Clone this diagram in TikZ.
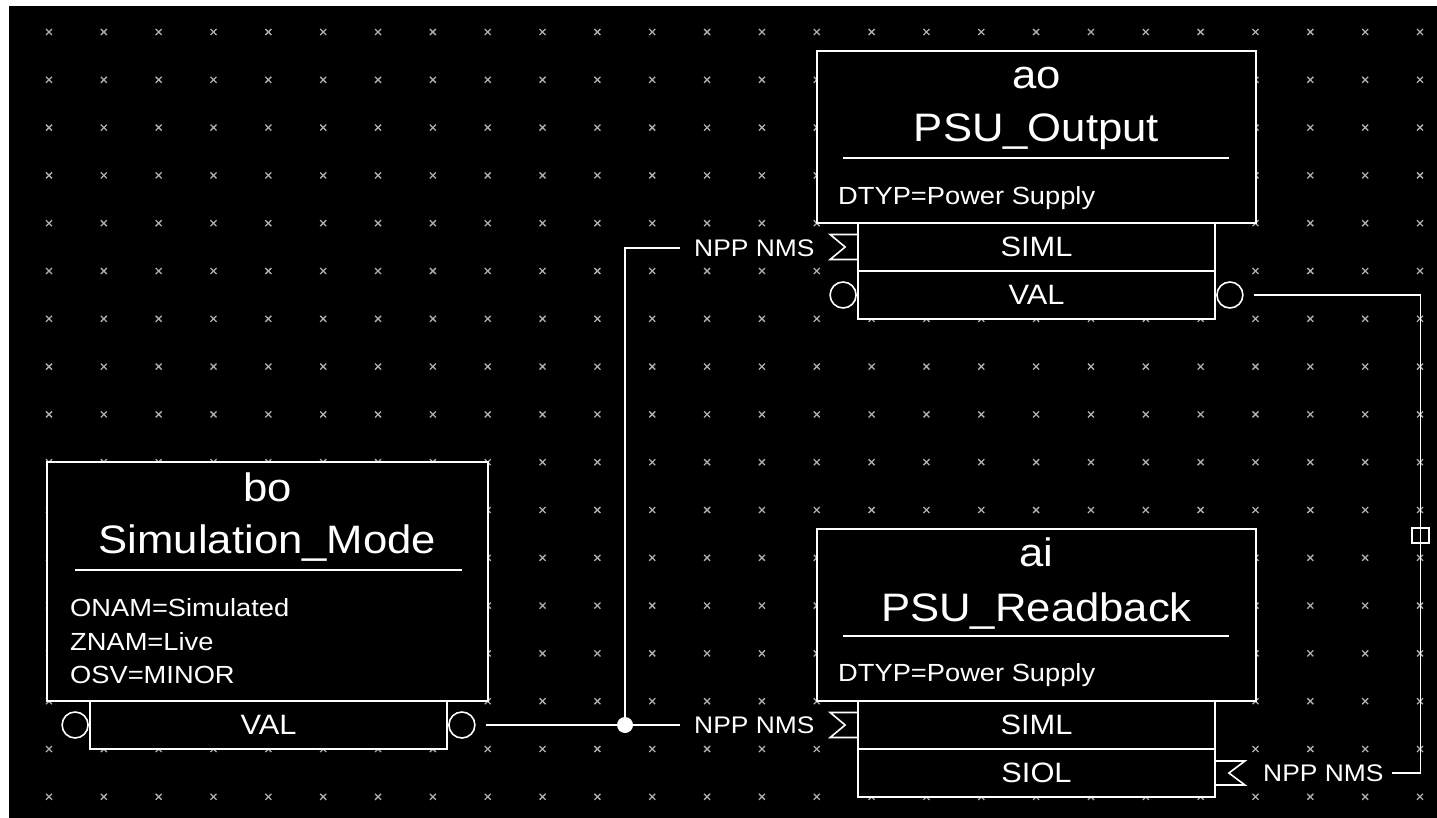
\documentclass[tikz,border=0pt]{standalone}
\usepackage{fontspec}
\newfontfamily\lab{Liberation Sans}[FakeStretch=1.1]
\definecolor{gridc}{RGB}{175,175,175}
\begin{document}
\begin{tikzpicture}[x=1pt,y=-1pt,
  wire/.style={draw=white, line width=1.8pt},
  recbox/.style={draw=white, fill=black, line width=1.8pt, inner sep=0pt, rectangle},
  portbox/.style={recbox, minimum width=357pt, minimum height=48pt, text=white, font=\lab\fontsize{28}{30}\selectfont},
  titletext/.style={text=white, font=\lab\fontsize{39.7}{42}\selectfont, inner sep=0pt, anchor=base},
  fieldtext/.style={text=white, font=\lab\fontsize{24.8}{26}\selectfont, inner sep=0pt, anchor=base west},
  linklbl/.style={text=white, font=\lab\fontsize{24}{26}\selectfont, inner sep=0pt, anchor=base west},
  gridmark/.style={draw=gridc, line width=1.3pt},
  outport/.style={circle, draw=white, line width=1.6pt, minimum size=26pt, inner sep=0pt},
]
\useasboundingbox (0,0) rectangle (1437,818);
\fill[white] (0,0) rectangle (1437,818);
\fill[black] (9,6) rectangle (1437,818);
% grid
\foreach \i in {0,...,25}{\foreach \j in {0,...,16}{
  \draw[gridmark] ({49+54.84*\i-3},{32+47.8*\j-3}) -- ++(6,6)
                  ({49+54.84*\i-3},{32+47.8*\j+3}) -- ++(6,-6);
}}
% ---------- ao box ----------
\node[recbox, minimum width=439pt, minimum height=172pt] (aoMain) at (1036.5,137) {};
\node[titletext] (aoType) at (1036.5,89) {ao};
\node[titletext] (aoName) at (1036.5,141.7) {PSU\_Output};
\draw[wire] (843,157.7) -- (1229,157.7);
\node[fieldtext] (aoDtyp) at (838,205) {DTYP=Power Supply};
\node[portbox] (aoSiml) at (1036.5,247) {SIML};
\node[portbox] (aoVal) at (1036.5,295) {VAL};
% ---------- ai box ----------
\node[recbox, minimum width=439pt, minimum height=172pt] (aiMain) at (1036.5,615) {};
\node[titletext] (aiType) at (1036.5,566.7) {ai};
\node[titletext] (aiName) at (1036.5,621) {PSU\_Readback};
\draw[wire] (843,635.7) -- (1229,635.7);
\node[fieldtext] (aiDtyp) at (838,681.7) {DTYP=Power Supply};
\node[portbox] (aiSiml) at (1036.5,725) {SIML};
\node[portbox] (aiSiol) at (1036.5,773) {SIOL};
% ---------- bo box ----------
\node[recbox, minimum width=441pt, minimum height=239pt] (boMain) at (267.5,581.5) {};
\node[titletext] (boType) at (267.5,501.7) {bo};
\node[titletext] (boName) at (267.5,553.3) {Simulation\_Mode};
\draw[wire] (75,570) -- (462,570);
\node[fieldtext] (boOnam) at (70,616) {ONAM=Simulated};
\node[fieldtext] (boZnam) at (70,650) {ZNAM=Live};
\node[fieldtext] (boOsv) at (70,683.3) {OSV=MINOR};
\node[portbox] (boVal) at (268.5,725) {VAL};
% ---------- port symbols ----------
\node[outport] (aoValIn) at ([xshift=-14pt]aoVal.west) {};
\node[outport] (aoValOut) at ([xshift=14pt]aoVal.east) {};
\node[outport] (boValIn) at ([xshift=-14pt]boVal.west) {};
\node[outport] (boValOut) at ([xshift=14pt]boVal.east) {};
\draw[wire, line width=1.6pt] (aoSiml.west) ++(0,-12.5) -- ++(-27,0) -- ++(15,12.5) -- ++(-15,12.5) -- ++(27,0);
\draw[wire, line width=1.6pt] (aiSiml.west) ++(0,-12.5) -- ++(-27,0) -- ++(15,12.5) -- ++(-15,12.5) -- ++(27,0);
\draw[wire, line width=1.6pt] (aiSiol.east) ++(0,-12) -- ++(29,0) -- ++(-16,12) -- ++(16,12) -- ++(-29,0);
% ---------- link labels ----------
\node[linklbl] (lblAoSiml) at (694,256.5) {NPP NMS};
\node[linklbl] (lblAiSiml) at (694,733.5) {NPP NMS};
\node[linklbl] (lblAiSiol) at (1263,781.5) {NPP NMS};
% ---------- wires ----------
\coordinate (boOutEnd) at (486,725);
\node[circle, fill=white, minimum size=16pt, inner sep=0pt] (J) at (625,725) {};
\coordinate (aiInEnd) at (680,725);
\coordinate (aoInEnd) at (680,248);
\draw[wire] (boOutEnd) -- (J.center) -- (aiInEnd);
\draw[wire] (J.center) |- (aoInEnd);
\coordinate (aoOutEnd) at (1254,295);
\coordinate (aiSiolEnd) at (1392,773);
\node[draw=white, line width=1.6pt, minimum width=17pt, minimum height=15pt, inner sep=0pt] (mark) at (1420.5,535.5) {};
\draw[wire] (aoOutEnd) -| (mark.center) |- (aiSiolEnd);
\end{tikzpicture}
\end{document}
